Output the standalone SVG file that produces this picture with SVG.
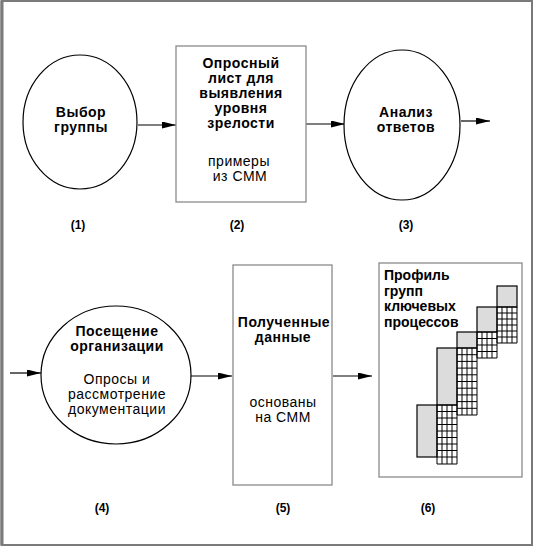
<svg xmlns="http://www.w3.org/2000/svg" width="534" height="549" viewBox="0 0 534 549">
<defs>
<style>
.t{font-family:"Liberation Sans","DejaVu Sans",sans-serif;font-size:14px;letter-spacing:0.5px;fill:#000;text-anchor:middle}
.b{font-weight:bold}
.s{text-anchor:start;letter-spacing:0px}
.l{font-family:"Liberation Sans","DejaVu Sans",sans-serif;font-size:12px;font-weight:bold;fill:#000;text-anchor:middle}
.ell{fill:#fff;stroke:#000;stroke-width:1.2}
.box{fill:#fff;stroke:#8a8a8a;stroke-width:1.3}
.con{stroke:#000;stroke-width:1.2;fill:none}
.gray{fill:#dcdcdc;stroke:#000;stroke-width:1.2}
.grid{fill:none;stroke:#000;stroke-width:1}
</style>
<marker id="arr" markerUnits="userSpaceOnUse" markerWidth="15" markerHeight="8" refX="14" refY="3.5" orient="auto">
<path d="M0,0 L14,3.5 L0,7 Z" fill="#000"/>
</marker>
</defs>
<rect x="0" y="0" width="534" height="549" fill="#fff"/>
<rect id="frame" x="1.5" y="1" width="530.5" height="544" fill="none" stroke="#7a7a7a" stroke-width="2"/>
<line x1="2" y1="1" x2="2" y2="545" stroke="#7a7a7a" stroke-width="3"/>

<g id="connectors">
<line class="con" x1="138" y1="125" x2="176" y2="125" marker-end="url(#arr)"/>
<line class="con" x1="306" y1="124" x2="345" y2="124" marker-end="url(#arr)"/>
<line class="con" x1="461" y1="121" x2="490" y2="121" marker-end="url(#arr)"/>
<line class="con" x1="10" y1="373" x2="41" y2="373" marker-end="url(#arr)"/>
<line class="con" x1="191" y1="376" x2="232" y2="376" marker-end="url(#arr)"/>
<line class="con" x1="333" y1="376" x2="372" y2="376" marker-end="url(#arr)"/>
</g>

<g id="node-1">
<ellipse class="ell" cx="80" cy="122" rx="57" ry="67"/>
<text class="t b" x="81" y="116.5">Выбор</text>
<text class="t b" x="81" y="131.5">группы</text>
<text class="l" x="78" y="229">(1)</text>
</g>

<g id="node-2">
<rect class="box" x="176" y="46" width="130" height="156"/>
<text class="t b" x="241" y="67.5">Опросный</text>
<text class="t b" x="241" y="82.5">лист для</text>
<text class="t b" x="241" y="97.5">выявления</text>
<text class="t b" x="241" y="112.5">уровня</text>
<text class="t b" x="241" y="127.5">зрелости</text>
<text class="t" x="239" y="166">примеры</text>
<text class="t" x="240" y="181">из СММ</text>
<text class="l" x="237" y="229">(2)</text>
</g>

<g id="node-3">
<ellipse class="ell" cx="402" cy="125" rx="58" ry="75"/>
<text class="t b" x="406" y="117">Анализ</text>
<text class="t b" x="406" y="132">ответов</text>
<text class="l" x="406" y="229">(3)</text>
</g>

<g id="node-4">
<ellipse class="ell" cx="116" cy="375" rx="75" ry="69"/>
<text class="t b" x="117" y="335.5">Посещение</text>
<text class="t b" x="117" y="350.5">организации</text>
<text class="t" x="117" y="384">Опросы и</text>
<text class="t" x="117" y="399">рассмотрение</text>
<text class="t" x="117" y="414">документации</text>
<text class="l" x="102" y="512">(4)</text>
</g>

<g id="node-5">
<rect class="box" x="233" y="265" width="99" height="220"/>
<text class="t b" x="284" y="326.5">Полученные</text>
<text class="t b" x="283" y="341.5">данные</text>
<text class="t" x="283" y="406.5">основаны</text>
<text class="t" x="283" y="421.5">на СММ</text>
<text class="l" x="283" y="512">(5)</text>
</g>

<g id="node-6">
<rect class="box" x="379" y="263" width="143" height="214"/>
<text class="t b s" x="384" y="280">Профиль</text>
<text class="t b s" x="384" y="295.5">групп</text>
<text class="t b s" x="384" y="311">ключевых</text>
<text class="t b s" x="384" y="326.5">процессов</text>
<rect class="gray" x="497" y="286" width="20" height="21"/>
<rect class="gray" x="477" y="307" width="20" height="25"/>
<rect class="gray" x="457" y="332" width="20" height="16"/>
<rect class="gray" x="437" y="348" width="20" height="57"/>
<rect class="gray" x="417" y="405" width="20" height="52"/>
<path class="grid" d="M497,307h20v36h-20z M502,307v36 M507,307v36 M512,307v36 M497,313h20 M497,319h20 M497,325h20 M497,331h20 M497,337h20"/>
<path class="grid" d="M477,332h20v26h-20z M482,332v26 M487,332v26 M492,332v26 M477,338.5h20 M477,345h20 M477,351.5h20"/>
<path class="grid" d="M457,348h20v67h-20z M462,348v67 M467,348v67 M472,348v67 M457,354.7h20 M457,361.4h20 M457,368.1h20 M457,374.8h20 M457,381.5h20 M457,388.2h20 M457,394.9h20 M457,401.6h20 M457,408.3h20"/>
<path class="grid" d="M437,405h20v59h-20z M442,405v59 M447,405v59 M452,405v59 M437,411.5h20 M437,418h20 M437,424.5h20 M437,431h20 M437,437.5h20 M437,444h20 M437,450.5h20 M437,457h20"/>
<text class="l" x="428" y="512">(6)</text>
</g>
</svg>
